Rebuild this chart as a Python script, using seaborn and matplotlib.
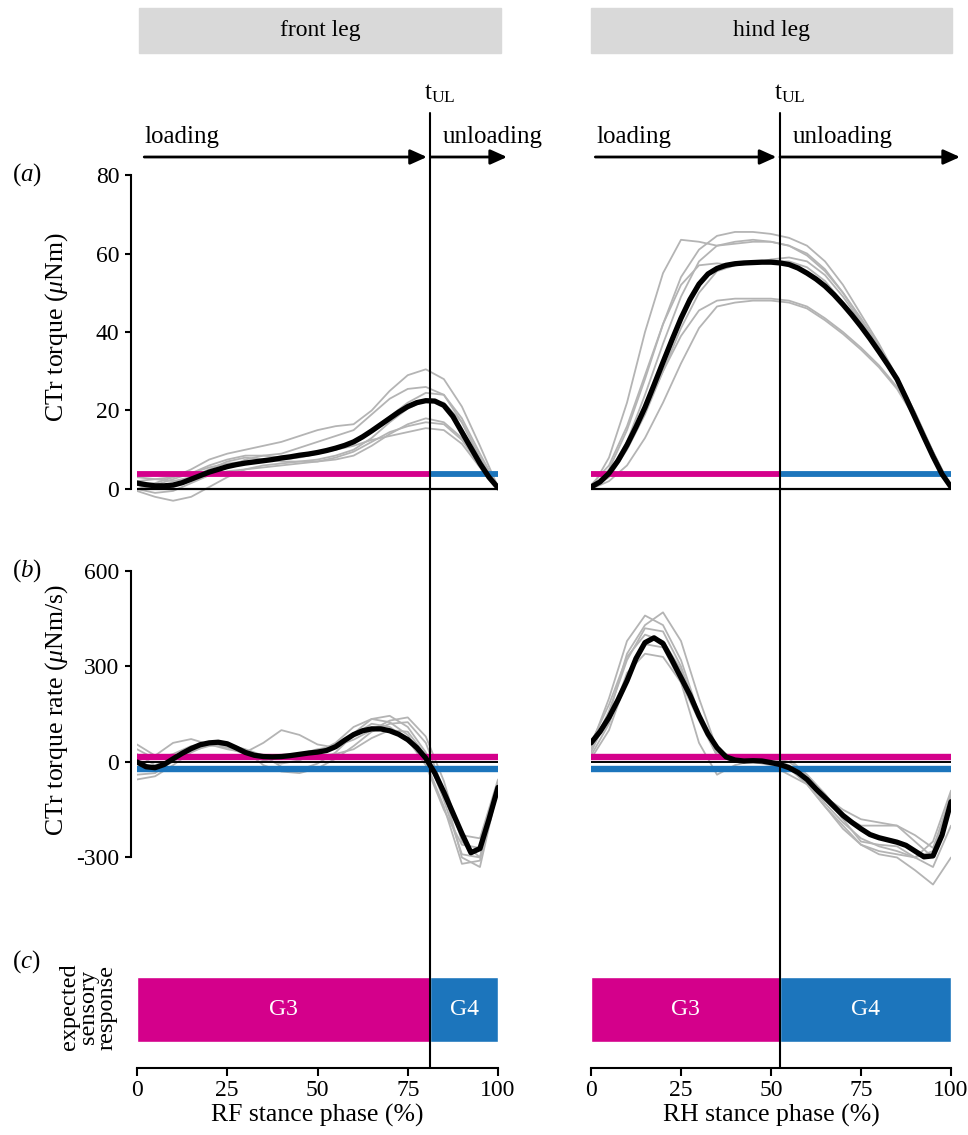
import numpy as np
import pandas as pd
import matplotlib
matplotlib.use("Agg")
import matplotlib.pyplot as plt
import seaborn as sns
from matplotlib.transforms import blended_transform_factory as btf
from matplotlib.lines import Line2D
from matplotlib.patches import Rectangle

# ---------------- data ----------------
phase_grey = [0, 5, 10, 15, 20, 25, 30, 35, 40, 45, 50, 55, 60, 65, 70, 75, 80, 85, 90, 95, 100]
phase_mean = list(np.arange(0, 100.1, 2.5))

t_ul_front = 81.3
t_ul_hind = 52.5

thr_torque = 3.8          # torque threshold (a)
thr_rate_pos = 17         # rate thresholds (b)
thr_rate_neg = -22

# (a) front torque, individual trials
front_torque_trials = [
    [1, 1.5, 3, 5, 7.5, 9, 10, 11, 12, 13.5, 15, 16, 16.5, 20, 25, 29, 30.5, 28, 21, 11, 0.5],
    [0, -1, -0.5, 1.5, 3.5, 5.5, 7.5, 8.5, 9, 10.5, 12, 13.5, 15, 19, 23, 25.5, 26, 24, 17, 8, 0],
    [2, 2.5, 3, 4, 6, 7.5, 8.5, 8.5, 8, 8.5, 9.5, 10.5, 12, 15, 18.5, 22, 24.5, 24, 18, 9, 0.5],
    [3, 2.5, 2, 3, 5, 7, 8, 7.5, 7, 7, 7.5, 8.5, 10, 13, 17, 20.5, 22.5, 22, 17, 8, 0],
    [-0.5, -2, -3, -2, 0.5, 3, 5, 6, 6.5, 7, 7, 7.5, 8.5, 11, 14, 16.5, 18, 17, 13, 6, 0],
    [1, 0, 0.5, 2, 3.5, 4.5, 5, 5.5, 6, 6.5, 7, 8, 9.5, 12, 14.5, 16, 17, 16.5, 12.5, 6, 0],
    [0, 1, 2.5, 4, 5.5, 6.5, 7, 7, 7.5, 8, 9, 10, 11, 12.5, 13.5, 14.5, 15.5, 15, 11.5, 5.5, 0],
]
front_torque_mean = [1.5, 1.1, 0.8, 0.8, 1.0, 1.6, 2.5, 3.4, 4.3, 5.0, 5.7, 6.2, 6.6, 6.9, 7.2, 7.5,
                     7.9, 8.2, 8.6, 8.9, 9.3, 9.8, 10.4, 11.1, 12.0, 13.3, 14.8, 16.4, 18.0, 19.6,
                     21.0, 22.0, 22.5, 22.4, 21.3, 18.5, 14.5, 10.5, 6.5, 3.0, 0.3]

# (a) hind torque, individual trials
hind_torque_trials = [
    [0, 8, 22, 40, 55, 63.5, 63, 62, 62.5, 63, 63, 62, 60, 56, 50, 43, 36, 28, 19, 9, 0],
    [0, 5, 15, 28, 42, 54, 61, 64.5, 65.5, 65.5, 65, 64, 62, 58, 52, 44.5, 37, 28.5, 19.5, 9.5, 0],
    [0, 4, 12, 24, 37, 49, 58, 62, 63, 63.5, 63, 62, 59.5, 55.5, 50, 43.5, 36.5, 28, 19, 9, 0],
    [1, 6, 16, 29, 42, 52, 57, 57.5, 57, 57.5, 58.5, 59, 58, 54.5, 49, 42.5, 35.5, 27.5, 18.5, 8.5, 0],
    [0, 3, 10, 19, 30, 41, 50, 55.5, 57, 57.5, 58, 58, 56.5, 53, 47.5, 41.5, 35, 28, 19.5, 9.5, 0],
    [0, 4, 11, 20, 30, 39, 45.5, 48, 48.5, 48.5, 48.5, 48, 46.5, 43.5, 40, 36, 31.5, 26, 18.5, 9.5, 0.5],
    [0, 2, 6, 13, 22, 32, 41, 46.5, 47.5, 48, 48, 47.5, 46, 43, 39.5, 35.5, 31, 25.5, 18, 9, 0],
]
hind_torque_mean = [0.5, 1.8, 4.0, 7.2, 11.2, 15.8, 20.8, 26.5, 32.3, 38.0, 43.5, 48.3, 52.2, 54.8,
                    56.2, 57.0, 57.4, 57.6, 57.7, 57.8, 57.8, 57.6, 57.2, 56.3, 55.0, 53.5, 51.7,
                    49.5, 47.0, 44.3, 41.4, 38.3, 35.0, 31.6, 28.0, 23.2, 18.2, 13.2, 8.3, 3.8, 0.5]

# (b) front torque rate, individual trials
front_rate_trials = [
    [55, 20, 60, 72, 55, 40, 30, 60, 100, 85, 55, 45, 90, 135, 145, 110, 30, -120, -290, -300, -70],
    [40, 10, 25, 50, 60, 50, 25, 5, -5, 5, 30, 60, 110, 135, 125, 85, 0, -140, -320, -310, -60],
    [-40, -35, 5, 45, 60, 55, 30, 10, 10, 25, 40, 50, 70, 100, 130, 140, 80, -60, -250, -300, -90],
    [-55, -45, -10, 30, 55, 60, 35, -10, -30, -35, -20, 10, 50, 95, 120, 125, 60, -90, -300, -330, -80],
    [25, -10, 10, 40, 55, 45, 25, 15, 15, 15, 20, 25, 40, 75, 100, 95, 20, -110, -230, -240, -55],
    [10, -25, 0, 35, 50, 55, 40, 20, -15, -25, -5, 30, 85, 120, 110, 70, -10, -150, -260, -270, -85],
]
front_rate_mean = [0, -15, -18, -8, 10, 27, 42, 54, 60, 62, 57, 44, 30, 21, 17, 16, 17, 20, 24, 28,
                   31, 36, 48, 68, 86, 98, 104, 104, 98, 87, 70, 45, 12, -35, -95, -160, -225, -285,
                   -272, -180, -80]

# (b) hind torque rate, individual trials
hind_rate_trials = [
    [50, 200, 380, 460, 430, 320, 150, 30, 10, 15, 10, -10, -60, -130, -190, -240, -265, -280, -300, -280, -100],
    [30, 150, 340, 430, 470, 380, 200, 40, 0, 10, 15, 0, -40, -100, -170, -200, -200, -200, -230, -270, -110],
    [10, 100, 260, 370, 360, 250, 60, -40, -10, 5, 20, 10, -40, -110, -180, -250, -260, -265, -300, -330, -200],
    [40, 160, 320, 420, 410, 300, 140, 20, 5, 0, -10, -40, -70, -140, -200, -260, -290, -300, -340, -385, -300],
    [20, 120, 280, 340, 330, 250, 130, 20, 0, 10, 5, -20, -70, -140, -210, -260, -280, -290, -300, -250, -90],
    [60, 180, 330, 400, 380, 290, 150, 40, 10, 5, 0, -20, -50, -110, -150, -180, -190, -200, -250, -300, -140],
]
hind_rate_mean = [60, 95, 140, 195, 255, 325, 375, 390, 372, 320, 265, 210, 145, 88, 45, 16, 6, 3, 4,
                  3, -2, -8, -18, -33, -55, -85, -112, -140, -168, -190, -210, -228, -238, -245, -252,
                  -262, -280, -298, -295, -230, -125]

torque_ticks = [0, 20, 40, 60, 80]
rate_ticks = [-300, 0, 300, 600]
phase_ticks = [0, 25, 50, 75, 100]

PINK = "#D4008B"
BLUE = "#1C75BC"
GREY = "#b4b4b4"
HEADER = "#d9d9d9"

# ---------------- style ----------------
sns.set_theme(style="ticks")
plt.rcParams["font.family"] = ["Liberation Serif", "DejaVu Serif"]
plt.rcParams["mathtext.fontset"] = "custom"
plt.rcParams["mathtext.rm"] = "Liberation Serif"
plt.rcParams["mathtext.it"] = "Liberation Serif:italic"
plt.rcParams["axes.unicode_minus"] = False
for key in ("text.color", "axes.labelcolor", "xtick.color", "ytick.color", "axes.edgecolor"):
    plt.rcParams[key] = "black"
FS = 17
FL = 18.5

W, H = 968, 1135
fig = plt.figure(figsize=(W / 100, H / 100), dpi=100)


def fx(p):
    return p / W


def fy(p):
    return 1 - p / H


def add_ax(l, r, t, b):
    ax = fig.add_axes([fx(l), fy(b), (r - l) / W, (b - t) / H])
    ax.set_facecolor("none")
    return ax


cols = {"front": (137, 498), "hind": (591, 951)}
tul = {"front": t_ul_front, "hind": t_ul_hind}
trials_a = {"front": front_torque_trials, "hind": hind_torque_trials}
mean_a = {"front": front_torque_mean, "hind": hind_torque_mean}
trials_b = {"front": front_rate_trials, "hind": hind_rate_trials}
mean_b = {"front": front_rate_mean, "hind": hind_rate_mean}
xlabels = {"front": "RF stance phase (%)", "hind": "RH stance phase (%)"}
headers = {"front": "front leg", "hind": "hind leg"}


def draw_curves(ax, trials, mean):
    rows = []
    for i, tr in enumerate(trials):
        for p, v in zip(phase_grey, tr):
            rows.append({"trial": i, "phase": p, "value": v})
    df = pd.DataFrame(rows)
    sns.lineplot(data=df, x="phase", y="value", units="trial", estimator=None,
                 color=GREY, lw=1.3, ax=ax, legend=False, zorder=1)
    sns.lineplot(x=phase_mean, y=mean, color="black", lw=3.8, ax=ax, zorder=4)
    ax.set_xlabel("")
    ax.set_ylabel("")


for name, (l, r) in cols.items():
    t = tul[name]
    # ---- (a) torque
    ax_a = add_ax(l, r, 167.2, 508.6)
    draw_curves(ax_a, trials_a[name], mean_a[name])
    ax_a.hlines(thr_torque, 0, t, color=PINK, lw=4.2, zorder=2)
    ax_a.hlines(thr_torque, t, 100, color=BLUE, lw=4.2, zorder=2)
    ax_a.hlines(0, 0, 100, color="black", lw=1.6, zorder=3)
    ax_a.set_xlim(0, 100)
    ax_a.set_ylim(-5, 82)
    # ---- (b) rate
    ax_b = add_ax(l, r, 564.6, 889.3)
    draw_curves(ax_b, trials_b[name], mean_b[name])
    ax_b.hlines(thr_rate_pos, 0, 100, color=PINK, lw=4.6, zorder=2)
    ax_b.hlines(thr_rate_neg, 0, 100, color=BLUE, lw=4.6, zorder=2)
    ax_b.hlines(0, 0, 100, color="black", lw=1.4, zorder=3)
    ax_b.set_xlim(0, 100)
    ax_b.set_ylim(-400, 620)

    for ax in (ax_a, ax_b):
        for s in ("top", "right", "bottom"):
            ax.spines[s].set_visible(False)
        ax.set_xticks([])
        if name == "front":
            ax.spines["left"].set_position(("outward", 4))
            ax.spines["left"].set_linewidth(1.5)
            ax.tick_params(axis="y", length=4.3, width=1.5, pad=4.5, labelsize=FS)
        else:
            ax.spines["left"].set_visible(False)
            ax.set_yticks([])
    if name == "front":
        ax_a.set_yticks(torque_ticks)
        ax_a.spines["left"].set_bounds(0, 80)
        ax_b.set_yticks(rate_ticks)
        ax_b.spines["left"].set_bounds(-300, 600)

    # ---- (c) expected sensory response
    ax_c = add_ax(l, r, 960, 1067.5)
    ax_c.barh(0.54, t, left=0, height=0.605, color=PINK, zorder=1)
    ax_c.barh(0.54, 100 - t, left=t, height=0.605, color=BLUE, zorder=1)
    ax_c.text(t / 2, 0.54, "G3", color="white", ha="center", va="center", fontsize=FS)
    ax_c.text((t + 100) / 2, 0.54, "G4", color="white", ha="center", va="center", fontsize=FS)
    ax_c.set_xlim(0, 100)
    ax_c.set_ylim(0, 1)
    for s in ("top", "right", "left"):
        ax_c.spines[s].set_visible(False)
    ax_c.spines["bottom"].set_bounds(0, 100)
    ax_c.spines["bottom"].set_linewidth(1.5)
    ax_c.set_yticks([])
    ax_c.set_xticks(phase_ticks)
    ax_c.tick_params(axis="x", length=5.5, width=1.5, pad=3.5, labelsize=FS)
    ax_c.set_xlabel(xlabels[name], fontsize=FL, labelpad=2)

    # ---- t_UL vertical line through all panels
    tr_c = btf(ax_c.transData, fig.transFigure)
    ax_c.add_line(Line2D([t, t], [fy(113), fy(1067.5)], transform=tr_c,
                         color="black", lw=1.5, clip_on=False, zorder=10))
    ax_c.text(t - 1.7, fy(99), r"$\mathrm{t}_{\mathrm{UL}}$", transform=tr_c,
              ha="left", va="baseline", fontsize=FS + 1)

    # ---- loading / unloading arrows
    tr_a = btf(ax_a.transData, fig.transFigure)
    style = "-|>,head_length=0.4,head_width=0.18"
    ax_a.annotate("", xy=(t - 1.0, fy(157)), xytext=(2.0 if name == "front" else 1.2, fy(157)),
                  xycoords=("data", "figure fraction"), textcoords=("data", "figure fraction"),
                  arrowprops=dict(arrowstyle=style, lw=2.0, color="black", mutation_scale=25,
                                  shrinkA=0, shrinkB=0),
                  annotation_clip=False)
    ax_a.annotate("", xy=(102.5, fy(157)), xytext=(t, fy(157)),
                  xycoords=("data", "figure fraction"), textcoords=("data", "figure fraction"),
                  arrowprops=dict(arrowstyle=style, lw=2.0, color="black", mutation_scale=25,
                                  shrinkA=0, shrinkB=0),
                  annotation_clip=False)
    ax_a.text(2.2 if name == "front" else 1.4, fy(142.5), "loading", transform=tr_a,
              ha="left", va="baseline", fontsize=18)
    ax_a.text(t + 3.4, fy(142.5), "unloading", transform=tr_a,
              ha="left", va="baseline", fontsize=18)

    # ---- header box
    hl, hr = (139, 501) if name == "front" else (591, 952)
    fig.patches.append(Rectangle((fx(hl), fy(53)), (hr - hl) / W, 45 / H,
                                 transform=fig.transFigure, color=HEADER, zorder=0))
    fig.text(fx((hl + hr) / 2), fy(30.5), headers[name], ha="center", va="center", fontsize=FS)

# ---- row labels and y labels
fig.text(fx(12), fy(175), r"($\mathit{a}$)", ha="left", va="center", fontsize=FS + 1)
fig.text(fx(12), fy(571), r"($\mathit{b}$)", ha="left", va="center", fontsize=FS + 1)
fig.text(fx(12), fy(962), r"($\mathit{c}$)", ha="left", va="center", fontsize=FS + 1)
fig.text(fx(57), fy(327), r"CTr torque ($\mu$Nm)", rotation=90, ha="center", va="center", fontsize=FL)
fig.text(fx(57), fy(710), r"CTr torque rate ($\mu$Nm/s)", rotation=90, ha="center", va="center",
         fontsize=FL)
fig.text(fx(88), fy(1007), "expected\nsensory\nresponse", rotation=90, ha="center", va="center",
         fontsize=17.5, linespacing=0.85, multialignment="center")

fig.savefig("out.png", dpi=100)
